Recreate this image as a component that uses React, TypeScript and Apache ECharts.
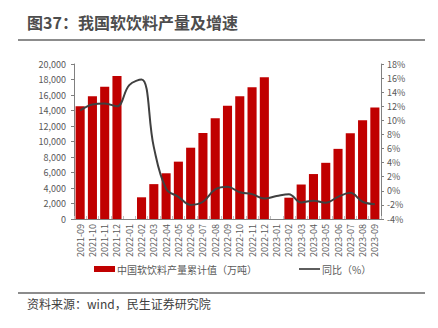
import React, { useEffect, useRef } from "react";
import * as echarts from "echarts";

const categories = [
  "2021-09", "2021-10", "2021-11", "2021-12", "2022-01", "2022-02", "2022-03", "2022-04", "2022-05",
  "2022-06", "2022-07", "2022-08", "2022-09", "2022-10", "2022-11", "2022-12", "2023-01", "2023-02",
  "2023-03", "2023-04", "2023-05", "2023-06", "2023-07", "2023-08", "2023-09",
];

const outputCum: (number | null)[] = [
  14550, 15850, 17050, 18450, null, 2800, 4500, 5900, 7400,
  9200, 11100, 13000, 14620, 15850, 17000, 18300, null, 2750,
  4450, 5800, 7250, 9050, 11050, 12750, 14400,
];

const yoy: number[] = [
  11.4, 12.25, 12.4, 12.0, 15.0, 15.8, 6.2, 0.3, -0.85,
  -2.0, -1.55, 0.2, 0.57, -0.2, -0.47, -1.1, -0.75, -0.47,
  -1.65, -1.4, -1.7, -0.85, -0.28, -1.55, -1.9,
];

const leftTicks = { min: 0, max: 20000, interval: 2000 };
const rightTicks = { min: -4, max: 18, interval: 2 };

const titleText = "图37：我国软饮料产量及增速";
const sourceText = "资料来源：wind，民生证券研究院";
const barName = "中国软饮料产量累计值（万吨）";
const lineName = "同比（%）";

const CJK = '"Noto Sans CJK SC", "Noto Sans", sans-serif';

export default function App() {
  const ref = useRef<HTMLDivElement>(null);
  useEffect(() => {
    if (!ref.current) return;
    const chart = echarts.init(ref.current, undefined, { renderer: "svg" });
    chart.setOption({
      animation: false,
      backgroundColor: "#ffffff",
      textStyle: { fontFamily: CJK },
      grid: { left: 74, right: 57, top: 64, bottom: 109 },
      legend: {
        left: 89,
        top: 259,
        itemWidth: 21,
        itemHeight: 6,
        itemGap: 42,
        textStyle: { fontSize: 10, color: "#595959", fontFamily: CJK, padding: [0, 0, 0, -3] },
        data: [
          { name: barName, icon: "rect" },
          { name: lineName, icon: "path://M0,0 L20,0 L20,1.6 L0,1.6 Z" },
        ],
      },
      xAxis: {
        type: "category",
        data: categories,
        axisLine: { lineStyle: { color: "#808080", width: 1 } },
        axisTick: { show: true, inside: true, length: 3, lineStyle: { color: "#bfbfbf" } },
        axisLabel: { rotate: 90, fontSize: 9, color: "#595959", margin: 5, fontFamily: CJK },
      },
      yAxis: [
        {
          type: "value",
          ...leftTicks,
          axisLine: { show: true, lineStyle: { color: "#808080" } },
          axisTick: { show: true, length: 3, lineStyle: { color: "#808080" } },
          splitLine: { show: false },
          axisLabel: {
            fontSize: 9,
            color: "#595959",
            margin: 8,
            fontFamily: CJK,
            formatter: (v: number) => v.toLocaleString("en-US"),
          },
        },
        {
          type: "value",
          ...rightTicks,
          position: "right",
          axisLine: { show: true, lineStyle: { color: "#808080" } },
          axisTick: { show: true, length: 3, lineStyle: { color: "#808080" } },
          splitLine: { show: false },
          axisLabel: { fontSize: 9, color: "#595959", margin: 6, fontFamily: CJK, formatter: "{value}%" },
        },
      ],
      series: [
        {
          name: barName,
          type: "bar",
          data: outputCum.map((v) => (v === null ? "-" : v)),
          yAxisIndex: 0,
          barCategoryGap: "26%",
          itemStyle: { color: "#C00000" },
        },
        {
          name: lineName,
          type: "line",
          data: yoy,
          yAxisIndex: 1,
          smooth: 0.4,
          showSymbol: false,
          symbol: "none",
          lineStyle: { color: "#404040", width: 2 },
          itemStyle: { color: "#404040" },
        },
      ],
      graphic: [
        {
          type: "text",
          left: 27,
          top: 14,
          style: { text: titleText, fontSize: 16, fontWeight: "bold", fill: "#4d4d4d", fontFamily: CJK },
        },
        {
          type: "line",
          shape: { x1: 18, y1: 40, x2: 425, y2: 40 },
          style: { stroke: "#666666", lineWidth: 1.5 },
        },
        {
          type: "line",
          shape: { x1: 18, y1: 293, x2: 425, y2: 293 },
          style: { stroke: "#666666", lineWidth: 1.5 },
        },
        {
          type: "text",
          left: 27,
          top: 297,
          style: { text: sourceText, fontSize: 12, fill: "#404040", fontFamily: CJK },
        },
      ],
    });
    return () => chart.dispose();
  }, []);
  return (
    <div
      ref={ref}
      style={{ position: "fixed", left: 0, top: 0, width: 438, height: 328, background: "#fff" }}
    />
  );
}
